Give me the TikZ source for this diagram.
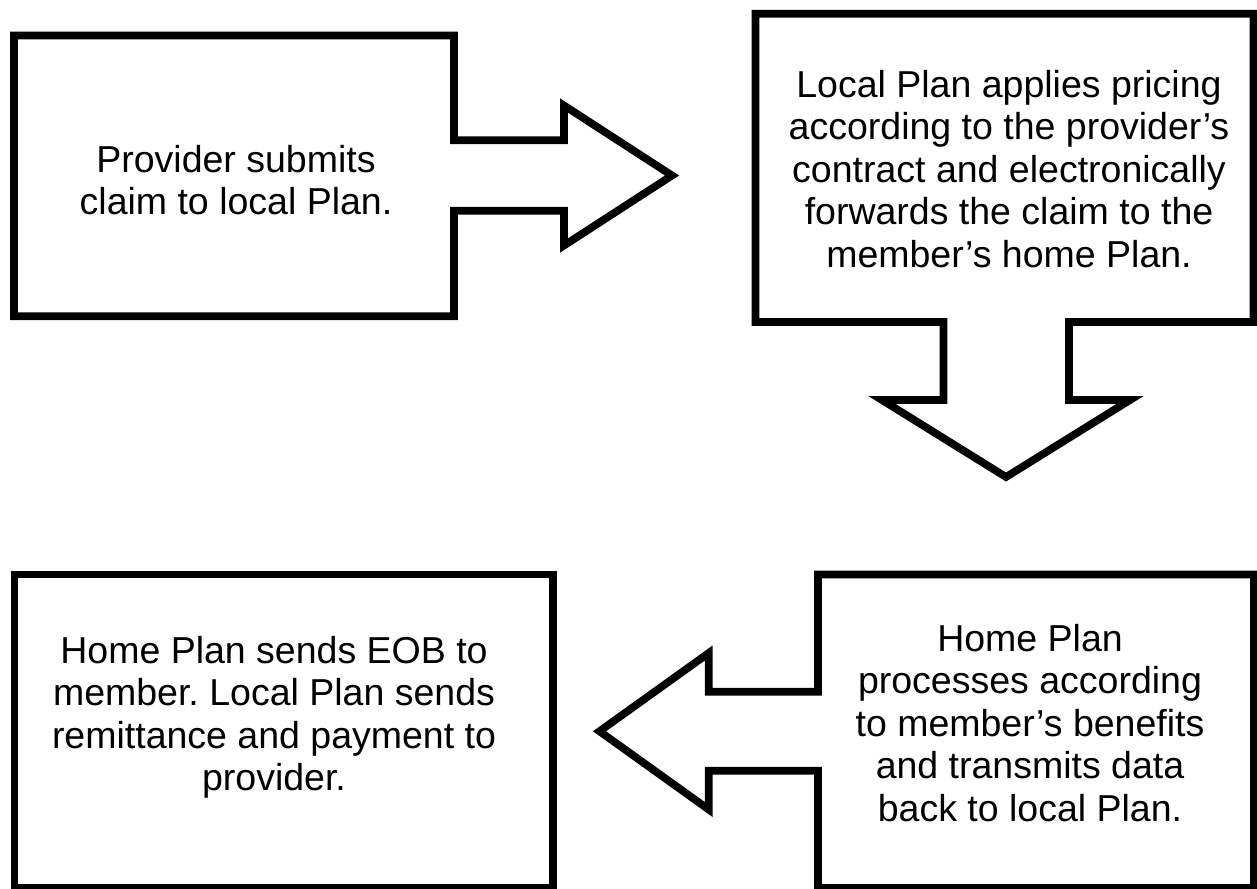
\documentclass[tikz,border=0pt]{standalone}
\usepackage{fontspec}
\setmainfont{Liberation Sans}
\frenchspacing
\begin{document}
\begin{tikzpicture}[x=1pt,y=-1pt,
  shapeline/.style={draw=black,line width=7.7pt,line join=miter,fill=white},
  boxtext/.style={font=\fontsize{37.5}{42.5}\selectfont,align=center,anchor=base,inner sep=0pt}]
\useasboundingbox[fill=white] (0,0) rectangle (1257,888);

% box 1 with right arrow
\draw[shapeline] (14,35.5) -- (454,35.5) -- (454,140.3) -- (564,140.3) -- (564,105.5)
  -- (672,175.5) -- (564,245.5) -- (564,210.7) -- (454,210.7) -- (454,316.3)
  -- (14,316.3) -- cycle;
% box 2 with down arrow
\draw[shapeline] (755.5,13.7) -- (1253.5,13.7) -- (1253.5,322) -- (1069,322) -- (1069,400)
  -- (1130,400) -- (1006,477) -- (882,400) -- (943.5,400) -- (943.5,322)
  -- (755.5,322) -- cycle;
% box 3
\draw[shapeline] (14.5,574.5) rectangle (553.3,888);
% box 4 with left arrow
\draw[shapeline] (818,574.5) -- (1254,574.5) -- (1254,888) -- (818,888) -- (818,770.7)
  -- (708.7,770.7) -- (708.7,809.5) -- (599.5,731.25) -- (708.7,653) -- (708.7,691.8)
  -- (818,691.8) -- cycle;

% anchor=base of a multi-line node is the baseline of its last line
\node[boxtext] (t1) at (236,214.5) {Provider submits\\claim to local Plan.};
\node[boxtext] (t2) at (1009,267) {Local Plan applies pricing\\according to the provider’s\\contract and electronically\\forwards the claim to the\\member’s home Plan.};
\node[boxtext] (t3) at (274,790.5) {Home Plan sends EOB to\\member. Local Plan sends\\remittance and payment to\\provider.};
\node[boxtext] (t4) at (1030,821) {Home Plan\\processes according\\to member’s benefits\\and transmits data\\back to local Plan.};
\end{tikzpicture}
\end{document}
